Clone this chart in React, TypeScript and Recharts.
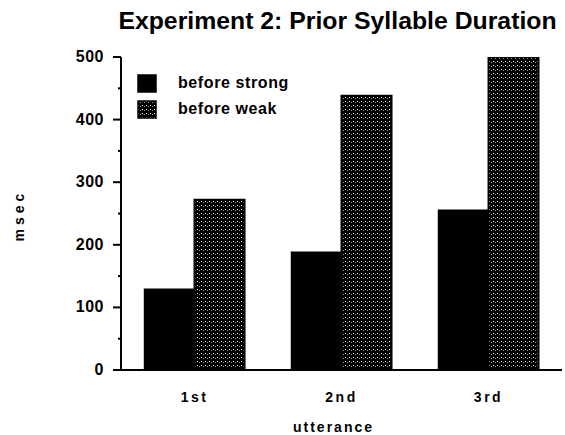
import React from 'react';
import { Bar, BarChart, Legend, XAxis, YAxis } from 'recharts';

const categories = ['1st', '2nd', '3rd'];
const beforeStrong = [129, 188, 255];
const beforeWeak = [272, 438, 500];
const yTicks = [0, 50, 100, 150, 200, 250, 300, 350, 400, 450, 500];

const data = categories.map((c, i) => ({
  utterance: c,
  strong: beforeStrong[i],
  weak: beforeWeak[i],
}));

const FONT = '"Liberation Sans", Arial, Helvetica, sans-serif';

function YTick(props: any) {
  const { x, y, payload } = props;
  const axisX = x + 10;
  const major = payload.value % 100 === 0;
  return (
    <g>
      <line
        x1={major ? axisX - 8 : axisX - 3}
        x2={axisX}
        y1={y}
        y2={y}
        stroke="#000"
        strokeWidth={2}
      />
      {major ? (
        <text
          x={x - 7}
          y={y}
          dy={5}
          textAnchor="end"
          fontFamily={FONT}
          fontWeight="bold"
          fontSize={16}
          letterSpacing={0.5}
          fill="#000"
        >
          {payload.value}
        </text>
      ) : null}
    </g>
  );
}

function XTick(props: any) {
  const { x, y, payload } = props;
  return (
    <text
      x={x}
      y={y}
      dy={32}
      textAnchor="middle"
      fontFamily={FONT}
      fontWeight="bold"
      fontSize={14}
      letterSpacing={2.5}
      fill="#000"
    >
      {payload.value}
    </text>
  );
}

function LegendBox() {
  const row = (fill: string, label: string) => (
    <div style={{ display: 'flex', alignItems: 'center', height: 26 }}>
      <svg width={20} height={19} style={{ marginRight: 21 }}>
        <rect x={1} y={1} width={18} height={17} fill={fill} stroke="#000" strokeWidth={1.5} />
      </svg>
      <span
        style={{
          fontFamily: FONT,
          fontWeight: 'bold',
          fontSize: 16,
          letterSpacing: 0.6,
          color: '#000',
        }}
      >
        {label}
      </span>
    </div>
  );
  return (
    <div>
      {row('#000', 'before strong')}
      {row('url(#stipple)', 'before weak')}
    </div>
  );
}

export default function App() {
  return (
    <div
      style={{
        position: 'absolute',
        left: 0,
        top: 0,
        width: 565,
        height: 435,
        background: '#fff',
      }}
    >
      <div
        style={{
          position: 'absolute',
          left: 0,
          top: 7,
          width: 675,
          textAlign: 'center',
          fontFamily: FONT,
          fontWeight: 'bold',
          fontSize: 24.8,
          color: '#000',
        }}
      >
        Experiment 2: Prior Syllable Duration
      </div>
      <svg width={0} height={0} style={{ position: 'absolute' }}>
        <defs>
          <pattern id="stipple" width={4} height={4} patternUnits="userSpaceOnUse">
            <rect width={4} height={4} fill="#000" />
            <rect x={1} y={1} width={1} height={1} fill="#fff" />
            <rect x={3} y={2} width={1} height={1} fill="#999" />
          </pattern>
        </defs>
      </svg>
      <BarChart
        width={565}
        height={435}
        data={data}
        margin={{ top: 57, right: 3, bottom: 0, left: 0 }}
        barCategoryGap="16%"
        barGap={0}
      >
        <XAxis
          dataKey="utterance"
          height={65}
          axisLine={{ stroke: '#000', strokeWidth: 2 }}
          tickLine={false}
          tickSize={0}
          tickMargin={0}
          tick={<XTick />}
          label={{
            content: (p: any) => (
              <text
                x={p.viewBox.x + p.viewBox.width / 2 - 8}
                y={p.viewBox.y + 62}
                textAnchor="middle"
                fontFamily={FONT}
                fontWeight="bold"
                fontSize={14}
                letterSpacing={2}
                fill="#000"
              >
                utterance
              </text>
            ),
          }}
        />
        <XAxis
          xAxisId="top"
          dataKey="utterance"
          orientation="top"
          height={0}
          tick={false}
          tickLine={false}
          axisLine={{ stroke: '#000', strokeWidth: 2 }}
        />
        <YAxis
          width={121}
          domain={[0, 500]}
          ticks={yTicks}
          interval={0}
          allowDataOverflow
          axisLine={{ stroke: '#000', strokeWidth: 2 }}
          tickLine={false}
          tickSize={0}
          tickMargin={10}
          tick={<YTick />}
          label={{
            content: (p: any) => (
              <text
                x={19}
                y={p.viewBox.y + p.viewBox.height / 2 + 2}
                transform={`rotate(-90 19 ${p.viewBox.y + p.viewBox.height / 2 + 2})`}
                textAnchor="middle"
                dominantBaseline="central"
                fontFamily={FONT}
                fontWeight="bold"
                fontSize={14}
                letterSpacing={4}
                fill="#000"
              >
                msec
              </text>
            ),
          }}
        />
        <YAxis
          yAxisId="right"
          orientation="right"
          width={0}
          domain={[0, 500]}
          tick={false}
          tickLine={false}
          axisLine={{ stroke: '#000', strokeWidth: 2 }}
        />
        <Legend
          layout="vertical"
          verticalAlign="middle"
          align="center"
          content={<LegendBox />}
          wrapperStyle={{ position: 'absolute', left: 137, top: 70, width: 'auto', bottom: 'auto' }}
        />
        <Bar
          dataKey="strong"
          name="before strong"
          fill="#000"
          stroke="#000"
          strokeWidth={1.5}
          isAnimationActive={false}
        />
        <Bar
          dataKey="weak"
          name="before weak"
          fill="url(#stipple)"
          stroke="#000"
          strokeWidth={2}
          isAnimationActive={false}
        />
      </BarChart>
    </div>
  );
}
